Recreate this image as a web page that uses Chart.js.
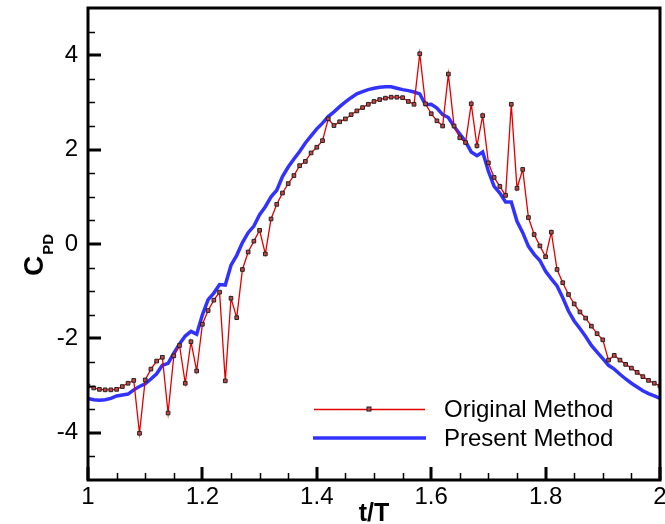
<!DOCTYPE html>
<html>
<head>
<meta charset="utf-8">
<script src="https://cdn.jsdelivr.net/npm/chart.js@4/dist/chart.umd.min.js"></script>
<style>
  body { margin: 0; background: #fff; }
  #wrap { width: 665px; height: 524px; }
</style>
</head>
<body>
<div id="wrap"><canvas id="myChart" width="665" height="524"></canvas></div>
<script>
// sample times t/T
var tValues = [
    1.00, 1.01, 1.02, 1.03, 1.04, 1.05, 1.06, 1.07, 1.08, 1.09,
    1.10, 1.11, 1.12, 1.13, 1.14, 1.15, 1.16, 1.17, 1.18, 1.19,
    1.20, 1.21, 1.22, 1.23, 1.24, 1.25, 1.26, 1.27, 1.28, 1.29,
    1.30, 1.31, 1.32, 1.33, 1.34, 1.35, 1.36, 1.37, 1.38, 1.39,
    1.40, 1.41, 1.42, 1.43, 1.44, 1.45, 1.46, 1.47, 1.48, 1.49,
    1.50, 1.51, 1.52, 1.53, 1.54, 1.55, 1.56, 1.57, 1.58, 1.59,
    1.60, 1.61, 1.62, 1.63, 1.64, 1.65, 1.66, 1.67, 1.68, 1.69,
    1.70, 1.71, 1.72, 1.73, 1.74, 1.75, 1.76, 1.77, 1.78, 1.79,
    1.80, 1.81, 1.82, 1.83, 1.84, 1.85, 1.86, 1.87, 1.88, 1.89,
    1.90, 1.91, 1.92, 1.93, 1.94, 1.95, 1.96, 1.97, 1.98, 1.99,
    2.00
];

// Original Method (red, with markers)
var originalCpd = [
    -3.01, -3.05, -3.08, -3.09, -3.09, -3.08, -3.02, -2.95, -2.89, -4.01,
    -2.88, -2.65, -2.48, -2.40, -3.58, -2.37, -2.15, -2.95, -2.07, -2.69,
    -1.70, -1.41, -1.19, -1.02, -2.90, -1.15, -1.56, -0.54, -0.17, 0.06,
    0.29, -0.21, 0.53, 0.84, 1.08, 1.28, 1.45, 1.66, 1.75, 1.93,
    2.05, 2.19, 2.65, 2.51, 2.59, 2.65, 2.74, 2.82, 2.89, 2.96,
    3.02, 3.06, 3.09, 3.11, 3.11, 3.10, 3.02, 2.96, 4.03, 2.97,
    2.76, 2.61, 2.50, 3.60, 2.50, 2.25, 2.15, 2.97, 2.08, 2.72,
    1.72, 1.41, 1.22, 1.03, 2.96, 1.18, 1.58, 0.56, 0.20, -0.04,
    -0.27, 0.25, -0.54, -0.82, -1.07, -1.27, -1.44, -1.57, -1.74, -1.90,
    -2.03, -2.46, -2.36, -2.46, -2.55, -2.63, -2.72, -2.81, -2.89, -2.95,
    -3.01
];

// Present Method (blue line)
var presentCpd = [
    -3.27, -3.30, -3.31, -3.30, -3.27, -3.22, -3.20, -3.18, -3.09, -3.02,
    -2.96, -2.86, -2.75, -2.57, -2.53, -2.31, -2.12, -1.95, -1.85, -1.91,
    -1.50, -1.18, -1.04, -0.86, -0.87, -0.45, -0.24, 0.03, 0.24, 0.38,
    0.62, 0.79, 1.00, 1.14, 1.43, 1.63, 1.80, 1.96, 2.14, 2.29,
    2.44, 2.56, 2.70, 2.80, 2.91, 3.01, 3.10, 3.18, 3.23, 3.27,
    3.30, 3.32, 3.33, 3.33, 3.30, 3.27, 3.25, 3.22, 3.18, 2.95,
    2.96, 2.88, 2.74, 2.68, 2.49, 2.33, 2.17, 1.95, 1.87, 1.95,
    1.54, 1.22, 1.08, 0.89, 0.89, 0.48, 0.24, -0.05, -0.22, -0.35,
    -0.58, -0.74, -0.89, -1.14, -1.42, -1.63, -1.79, -1.96, -2.15, -2.29,
    -2.43, -2.57, -2.65, -2.76, -2.86, -2.95, -3.03, -3.11, -3.17, -3.22,
    -3.27
];

var xTicks = [1, 1.2, 1.4, 1.6, 1.8, 2];
var xTickLabels = ['1', '1.2', '1.4', '1.6', '1.8', '2'];
var xMinorTicks = [1.05, 1.1, 1.15, 1.25, 1.3, 1.35, 1.45, 1.5, 1.55, 1.65, 1.7, 1.75, 1.85, 1.9, 1.95];
var yTicks = [-4, -2, 0, 2, 4];
var yTickLabels = ['-4', '-2', '0', '2', '4'];
var yMinorTicks = [-4.5, -3.5, -3, -2.5, -1.5, -1, -0.5, 0.5, 1, 1.5, 2.5, 3, 3.5, 4.5];

var FONT = "'Liberation Sans', Arial, sans-serif";

function toPoints(xs, ys) {
    return xs.map(function (x, i) { return { x: x, y: ys[i] }; });
}

// frame, inward ticks, y title with subscript, legend
var decorPlugin = {
    id: 'decor',
    afterDraw: function (chart) {
        var ctx = chart.ctx;
        var a = chart.chartArea;
        var xs = chart.scales.x, ys = chart.scales.y;
        ctx.save();
        ctx.strokeStyle = '#000';

        // minor ticks
        ctx.lineWidth = 1.5;
        ctx.beginPath();
        xMinorTicks.forEach(function (v) {
            var px = Math.round(xs.getPixelForValue(v)) + 0.5;
            ctx.moveTo(px, a.bottom);
            ctx.lineTo(px, a.bottom - 7);
        });
        yMinorTicks.forEach(function (v) {
            var py = Math.round(ys.getPixelForValue(v)) + 0.5;
            ctx.moveTo(a.left, py);
            ctx.lineTo(a.left + 7, py);
        });
        ctx.stroke();

        // major ticks
        ctx.lineWidth = 3;
        ctx.beginPath();
        xTicks.forEach(function (v) {
            var px = Math.round(xs.getPixelForValue(v));
            ctx.moveTo(px, a.bottom);
            ctx.lineTo(px, a.bottom - 13);
        });
        yTicks.forEach(function (v) {
            var py = Math.round(ys.getPixelForValue(v));
            ctx.moveTo(a.left, py);
            ctx.lineTo(a.left + 13, py);
        });
        ctx.stroke();

        // frame
        ctx.lineWidth = 3;
        ctx.strokeRect(a.left, a.top, a.right - a.left, a.bottom - a.top);

        // y title: C with subscript PD
        ctx.fillStyle = '#000';
        ctx.save();
        ctx.translate(43, 276);
        ctx.rotate(-Math.PI / 2);
        ctx.textBaseline = 'alphabetic';
        ctx.textAlign = 'left';
        ctx.font = 'bold 28px ' + FONT;
        ctx.fillText('C', 0, 0);
        var cw = ctx.measureText('C').width;
        ctx.font = 'bold 15px ' + FONT;
        ctx.fillText('PD', cw + 1, 10);
        ctx.restore();

        // legend
        var ds0 = chart.data.datasets[0], ds1 = chart.data.datasets[1];
        ctx.lineWidth = ds0.borderWidth;
        ctx.strokeStyle = ds0.borderColor;
        ctx.beginPath();
        ctx.moveTo(314, 409.5);
        ctx.lineTo(425, 409.5);
        ctx.stroke();
        ctx.fillStyle = ds0.pointBackgroundColor;
        ctx.strokeStyle = ds0.pointBorderColor;
        ctx.lineWidth = 1;
        ctx.fillRect(367, 407, 4, 4);
        ctx.strokeRect(367, 407, 4, 4);

        ctx.lineWidth = ds1.borderWidth;
        ctx.strokeStyle = ds1.borderColor;
        ctx.beginPath();
        ctx.moveTo(313, 438);
        ctx.lineTo(426, 438);
        ctx.stroke();

        ctx.fillStyle = '#000';
        ctx.font = '24px ' + FONT;
        ctx.textBaseline = 'middle';
        ctx.textAlign = 'left';
        ctx.fillText(ds0.label, 444, 410);
        ctx.fillText(ds1.label, 444, 439);

        ctx.restore();
    }
};

var ctx = document.getElementById('myChart');
var myLineChart = new Chart(ctx, {
    type: 'line',
    data: {
        datasets: [
            {
                label: 'Original Method',
                data: toPoints(tValues, originalCpd),
                borderColor: 'rgb(225,0,0)',
                borderWidth: 1.3,
                pointStyle: 'rect',
                pointRadius: 2.6,
                pointBackgroundColor: '#c84444',
                pointBorderColor: '#222',
                pointBorderWidth: 1,
                tension: 0
            },
            {
                label: 'Present Method',
                data: toPoints(tValues, presentCpd),
                borderColor: 'rgb(50,50,255)',
                borderWidth: 3.5,
                pointRadius: 0,
                tension: 0
            }
        ]
    },
    options: {
        responsive: false,
        animation: false,
        events: [],
        layout: {
            padding: { top: 8, right: 2, left: 0, bottom: 0 }
        },
        plugins: {
            legend: { display: false },
            tooltip: { enabled: false }
        },
        scales: {
            x: {
                type: 'linear',
                min: 1,
                max: 2,
                afterBuildTicks: function (scale) {
                    scale.ticks = xTicks.map(function (v) { return { value: v }; });
                },
                afterFit: function (scale) {
                    scale.height = 44;
                    scale.paddingLeft = 0;
                    scale.paddingRight = 0;
                },
                ticks: {
                    autoSkip: false,
                    maxRotation: 0,
                    padding: 3,
                    color: '#000',
                    font: { family: FONT, size: 24 },
                    callback: function (v, i) { return xTickLabels[i]; }
                },
                grid: { display: false, drawTicks: false },
                border: { display: false },
                title: {
                    display: true,
                    text: 't/T',
                    color: '#000',
                    font: { family: FONT, size: 25, weight: 'bold' },
                    padding: { top: 0, bottom: -5 }
                }
            },
            y: {
                type: 'linear',
                min: -5,
                max: 5,
                afterBuildTicks: function (scale) {
                    scale.ticks = yTicks.map(function (v) { return { value: v }; });
                },
                afterFit: function (scale) {
                    scale.width = 88;
                    scale.paddingTop = 0;
                    scale.paddingBottom = 0;
                },
                ticks: {
                    autoSkip: false,
                    padding: 10,
                    color: '#000',
                    font: { family: FONT, size: 24 },
                    callback: function (v, i) { return yTickLabels[i]; }
                },
                grid: { display: false, drawTicks: false },
                border: { display: false }
            }
        }
    },
    plugins: [decorPlugin]
});
</script>
</body>
</html>
